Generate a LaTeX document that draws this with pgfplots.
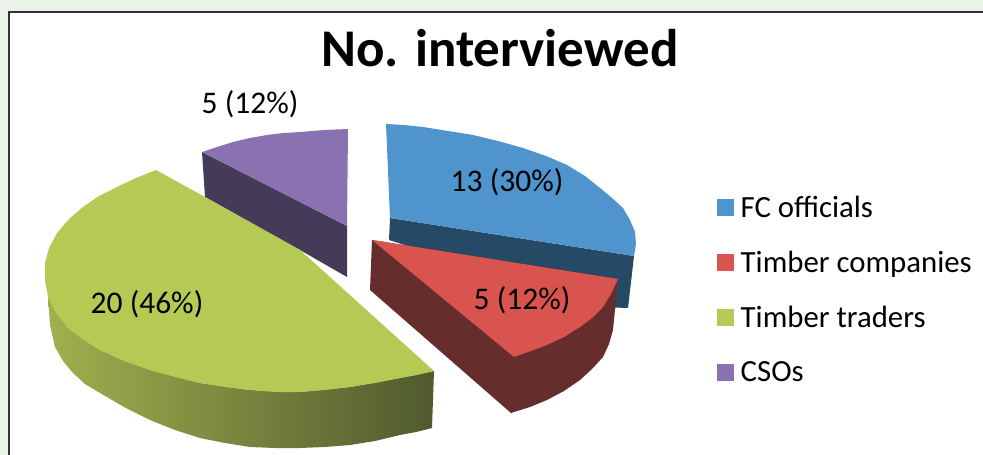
\documentclass[border=0pt]{standalone}
\usepackage{pgfplots}
\pgfplotsset{compat=1.18}
\usepackage{fontspec}
\setmainfont{Carlito}
\definecolor{bgc}{HTML}{E9F3E8}
\definecolor{bluet}{HTML}{4F94CD}
\definecolor{blued}{HTML}{264A66}
\definecolor{redt}{HTML}{D9534F}
\definecolor{redd}{HTML}{652D2B}
\definecolor{greent}{HTML}{B5C955}
\definecolor{greenl}{HTML}{A0B04E}
\definecolor{greenm}{HTML}{7F8D42}
\definecolor{greenr}{HTML}{505A2E}
\definecolor{purplet}{HTML}{8A72B0}
\definecolor{purpled}{HTML}{463A59}
\begin{document}
\begin{tikzpicture}
\begin{axis}[
  scale only axis, width=983bp, height=455bp,
  xmin=0, xmax=983, ymin=0, ymax=455, y dir=reverse,
  hide axis, clip=true,
  legend image code/.code={\fill[#1] (0bp,-8.5bp) rectangle (17bp,8.5bp);},
  legend style={at={(axis cs:714,194)},anchor=north west,draw=none,fill=none,
    font=\fontsize{30.8bp}{33bp}\selectfont,
    row sep=32.3bp,
    column sep=6.5bp,
    nodes={inner sep=0pt,anchor=west}},
  legend cell align=left,
]
% panel
\addplot[draw=none,fill=bgc,forget plot] coordinates {(0,0)(983,0)(983,455)(0,455)} --cycle;
\addplot[draw=none,fill=white,forget plot] coordinates {(9,12)(983,12)(983,455)(9,455)} --cycle;
\addplot[draw=black!80,line width=1.2bp,forget plot] coordinates {(9,455)(9,12)(983,12)};
% dark sides
\addplot[draw=none,fill=blued,forget plot] coordinates {(390,218)(634,256)(628,308)(600,307)(389,240)} --cycle;
\addplot[draw=none,fill=purpled,forget plot] coordinates {(202,152)(347,226)(347,277)(300,250)(205,197)} --cycle;
\addplot[draw=none,left color=greenl,middle color=greenm,right color=greenr,forget plot] coordinates {(48,297)(50,325)(55,347)(63,361)(73,373)(85,384)(100,393)(124,407)(150,420)(175,430)(200,438)(225,443)(250,447)(275,448)(300,448)(325,447)(350,445)(375,441)(400,435)(416,432)(432,428)(434,371)(400,378)(350,387)(300,392)(250,390)(200,383)(150,370)(100,350)(67,327)} --cycle;
\addplot[draw=none,fill=redd,forget plot] coordinates {(372,240)(370,290)(511,413)(530,407)(547,400)(564,391)(580,380)(592,369)(603,357)(609,344)(613,330)(618,279)} --cycle;
% top faces
\addplot[draw=none,fill=bluet] coordinates {(386,124)(404,125)(423,127)(448,131)(473,135)(498,141)(523,148)(546,156)(567,165)(585,176)(600,188)(612,198)(623,208)(630,220)(635,232)(636,244)(634,256)(390,218)} --cycle;
\addlegendentry{FC officials}
\addplot[draw=none,fill=redt] coordinates {(372,240)(618,279)(611,294)(603,307)(592,318)(580,327)(564,337)(547,345)(531,351)(514,357)} --cycle;
\addlegendentry{Timber companies}
\addplot[draw=none,fill=greent] coordinates {(156,170)(136,178)(117,187)(99,196)(83,207)(69,219)(57,233)(49,248)(45,263)(45,280)(48,297)(56,313)(67,327)(82,339)(100,350)(124,361)(150,370)(175,377)(200,383)(225,387)(250,390)(275,392)(300,392)(325,390)(350,387)(375,383)(400,378)(417,375)(434,371)(300,250)(205,197)} --cycle;
\addlegendentry{Timber traders}
\addplot[draw=none,fill=purplet] coordinates {(202,152)(217,147)(233,142)(250,138)(267,135)(283,133)(300,132)(324,130)(348,129)(347,226)} --cycle;
\addlegendentry{CSOs}
% texts
\node[font=\bfseries\fontsize{53bp}{56bp}\selectfont] at (axis cs:500,48) {No. interviewed};
\node[font=\fontsize{31.5bp}{34bp}\selectfont] at (axis cs:507,182) {13 (30\%)};
\node[font=\fontsize{31.5bp}{34bp}\selectfont] at (axis cs:522,300) {5 (12\%)};
\node[font=\fontsize{31.5bp}{34bp}\selectfont] at (axis cs:147,304) {20 (46\%)};
\node[font=\fontsize{31.5bp}{34bp}\selectfont] at (axis cs:250,104) {5 (12\%)};
\end{axis}
\end{tikzpicture}
\end{document}
